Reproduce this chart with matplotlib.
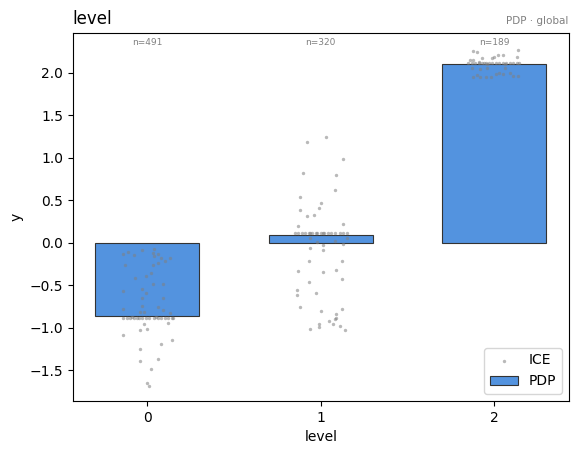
import numpy as np
import matplotlib
matplotlib.use('Agg')
import matplotlib.pyplot as plt

# 数据
levels = [0, 1, 2]
pdp_values = [-0.866, 0.095, 2.107]
counts = [491, 320, 189]

# ICE 点（x 为相对类别中心的抖动偏移，y 为取值）
ice_dx_0 = [-0.14, -0.11, -0.08, -0.03, 0.04, 0.03, 0.06, 0.04, 0.08, 0.13, 0.06, 0.10,
            0.03, -0.13, 0.02, -0.01, -0.07, 0.03, 0.09, -0.14, -0.03, -0.01, -0.03, 0.09,
            -0.03, -0.14, 0.06, 0.09, -0.02, -0.04, 0.13,
            -0.14, -0.12, -0.10, -0.08, -0.06, -0.05, -0.03, -0.01, 0.01, 0.04, 0.06, 0.08,
            0.10, 0.12, 0.14, 0.15, -0.09, 0.05,
            -0.02, 0.12, -0.04, 0.00, -0.14, 0.14, 0.08, -0.04, -0.04, 0.06, 0.02, -0.004, 0.01]
ice_y_0 = [-0.13, -0.105, -0.15, -0.09, -0.07, -0.12, -0.13, -0.16, -0.175, -0.175, -0.24, -0.22,
           -0.26, -0.26, -0.36, -0.39, -0.41, -0.48, -0.49, -0.57, -0.55, -0.59, -0.65, -0.65,
           -0.75, -0.78, -0.76, -0.79, -0.81, -0.82, -0.83,
           -0.88, -0.88, -0.88, -0.88, -0.88, -0.88, -0.88, -0.88, -0.88, -0.88, -0.88, -0.88,
           -0.88, -0.88, -0.88, -0.88, -0.87, -0.87,
           -0.96, -0.95, -1.03, -1.02, -1.09, -1.14, -1.19, -1.25, -1.39, -1.37, -1.49, -1.65, -1.68]

ice_dx_1 = [-0.08, 0.03, 0.13, -0.10, 0.09, 0.08, -0.12, 0.00, -0.01, -0.12, -0.04, -0.08,
            0.13, -0.13,
            -0.15, -0.13, -0.11, -0.09, -0.07, -0.05, -0.03, -0.02, 0.00, 0.02, 0.04, 0.06,
            0.08, 0.11, 0.13, 0.15, -0.06, 0.01,
            -0.06, -0.02, 0.08, 0.15, 0.13, 0.01, -0.06, 0.01, -0.07, 0.12, -0.13, 0.01,
            0.09, 0.12, -0.07, -0.14, -0.14, -0.03, -0.12, 0.00, 0.12, 0.09, 0.09, 0.08,
            0.05, 0.07, 0.11, -0.01, -0.01, -0.06, 0.14]
ice_y_1 = [1.19, 1.24, 0.98, 0.82, 0.80, 0.62, 0.54, 0.47, 0.41, 0.39, 0.33, 0.31,
           0.22, 0.20,
           0.12, 0.12, 0.12, 0.12, 0.12, 0.12, 0.12, 0.12, 0.12, 0.12, 0.12, 0.12,
           0.12, 0.12, 0.12, 0.12, 0.11, 0.11,
           0.05, 0.01, 0.02, 0.06, -0.02, -0.03, -0.06, -0.08, -0.22, -0.22, -0.33, -0.35,
           -0.32, -0.43, -0.46, -0.56, -0.62, -0.59, -0.76, -0.80, -0.78, -0.84, -0.89, -0.90,
           -0.92, -0.96, -0.98, -0.96, -0.99, -1.01, -1.03]

ice_dx_2 = [0.14, -0.12, -0.10, 0.02, 0.05, -0.07, -0.01, 0.00, 0.13, -0.14, -0.12, -0.09, -0.06,
            -0.15, -0.13, -0.11, -0.09, -0.07, -0.05, -0.03, -0.01, 0.01, 0.03, 0.05, 0.07,
            0.09, 0.11, 0.13, 0.145, -0.04, 0.06,
            -0.13, -0.08, -0.04, 0.06, 0.09, 0.03, 0.01, -0.10, -0.12, -0.05, -0.02, 0.05,
            0.11, 0.14, -0.08]
ice_y_2 = [2.27, 2.26, 2.24, 2.21, 2.21, 2.17, 2.17, 2.18, 2.18, 2.15, 2.15, 2.13, 2.12,
           2.11, 2.11, 2.11, 2.11, 2.11, 2.11, 2.11, 2.11, 2.11, 2.11, 2.11, 2.11,
           2.11, 2.11, 2.11, 2.11, 2.10, 2.10,
           2.06, 2.04, 2.06, 2.06, 2.00, 2.00, 1.98, 1.97, 1.95, 1.95, 1.95, 1.98,
           1.96, 1.96, 1.95]

ice_dx = [ice_dx_0, ice_dx_1, ice_dx_2]
ice_y = [ice_y_0, ice_y_1, ice_y_2]

fig = plt.figure(figsize=(5.78, 4.55), dpi=100)
ax = fig.add_axes([0.126, 0.119, 0.858, 0.809])

# PDP 柱
ax.bar(levels, pdp_values, width=0.6, color='#5393df', edgecolor='#333333',
       linewidth=0.8, label='PDP', zorder=2)

# ICE 散点
for i, lv in enumerate(levels):
    xs = [lv + d for d in ice_dx[i]]
    ax.scatter(xs, ice_y[i], s=6, color='gray', alpha=0.55, linewidths=0,
               label='ICE' if i == 0 else None, zorder=3)

# 样本数标注
for lv, n in zip(levels, counts):
    ax.text(lv, 0.985, f'n={n}', transform=ax.get_xaxis_transform(),
            ha='center', va='top', fontsize=6.5, color='gray')

ax.set_xticks(levels)
ax.set_xticklabels([str(v) for v in levels])
ax.set_xlim(-0.43, 2.43)
ax.set_ylim(-1.86, 2.47)
ax.set_xlabel('level')
ax.set_ylabel('y')
ax.set_title('level', loc='left', fontsize=12)
ax.set_title('PDP · global', loc='right', fontsize=7.5, color='gray')
ax.legend(loc='lower right')

plt.savefig('out.png', dpi=100)
